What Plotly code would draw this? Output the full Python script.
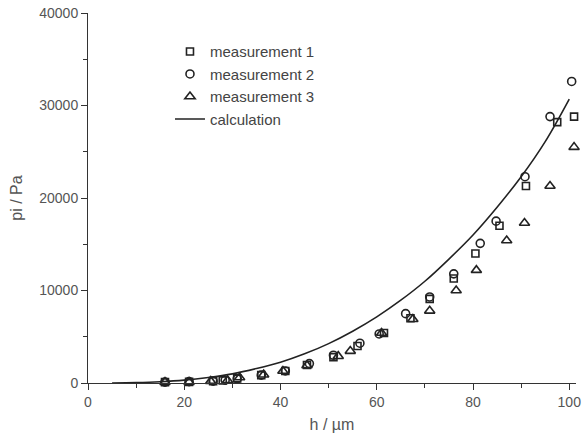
import plotly.graph_objects as go

# Measurement 1 (squares)
h1 = [16, 21, 26, 28, 31, 36, 41, 45.5, 51, 56, 61.5, 67, 71, 76, 80.5, 85.5, 91, 97.5, 101]
p1 = [100, 120, 200, 280, 500, 850, 1300, 1950, 2800, 4000, 5400, 7000, 9100, 11300, 14000, 17000, 21300, 28200, 28800]

# Measurement 2 (circles)
h2 = [16, 21, 26, 28.5, 31, 36, 41, 46, 51, 56.5, 60.5, 66, 71, 76, 81.5, 84.8, 90.8, 96, 100.5]
p2 = [100, 150, 200, 300, 450, 850, 1300, 2100, 3000, 4300, 5300, 7500, 9300, 11800, 15100, 17500, 22300, 28800, 32600]

# Measurement 3 (triangles)
h3 = [16, 21, 25.5, 29, 31.5, 36.5, 40.5, 45.5, 52, 54.5, 61, 67.5, 71, 76.5, 80.7, 87, 90.7, 96, 101]
p3 = [100, 100, 200, 300, 600, 900, 1300, 1900, 2900, 3450, 5400, 6900, 7800, 10000, 12200, 15400, 17300, 21300, 25500]

# Calculation (line)
hc = [5, 10, 15, 20, 25, 30, 35, 40, 45, 50, 55, 60, 65, 70, 75, 80, 85, 90, 95, 100]
pc = [6, 44, 137, 310, 600, 990, 1560, 2240, 3150, 4260, 5600, 7150, 8950, 11000, 13400, 16000, 19000, 22300, 26100, 30700]

x_ticks = [0, 20, 40, 60, 80, 100]
y_ticks = [0, 10000, 20000, 30000, 40000]

ink = "#222222"
fig = go.Figure()
fig.add_trace(go.Scatter(x=h1, y=p1, mode="markers", name="measurement 1",
                         marker=dict(symbol="square-open", size=7, color=ink, line=dict(width=1.6)),
                         cliponaxis=False))
fig.add_trace(go.Scatter(x=h2, y=p2, mode="markers", name="measurement 2",
                         marker=dict(symbol="circle-open", size=8, color=ink, line=dict(width=1.6)),
                         cliponaxis=False))
fig.add_trace(go.Scatter(x=h3, y=p3, mode="markers", name="measurement 3",
                         marker=dict(symbol="triangle-up-open", size=9, color=ink, line=dict(width=1.6)),
                         cliponaxis=False))
fig.add_trace(go.Scatter(x=hc, y=pc, mode="lines", name="calculation",
                         line=dict(color=ink, width=1.6, shape="spline")))

axis_common = dict(showline=True, linecolor="#333", linewidth=1, ticks="outside",
                   ticklen=6, tickcolor="#333", showgrid=False, zeroline=False,
                   automargin=False,
                   tickfont=dict(family="Liberation Sans, Arial", size=14, color="#555"),
                   title_font=dict(family="Liberation Sans, Arial", size=16, color="#555"))

fig.update_xaxes(range=[0, 101.4], tickvals=x_ticks, ticktext=[str(v) for v in x_ticks],
                 title_text="h / µm",
                 minor=dict(dtick=10, ticks="outside", ticklen=4, tickcolor="#333"),
                 title_standoff=10, **axis_common)
fig.update_yaxes(range=[0, 40000], tickvals=y_ticks, ticktext=[str(v) for v in y_ticks],
                 title_text="pi / Pa",
                 minor=dict(dtick=5000, ticks="outside", ticklen=4, tickcolor="#333"),
                 title_standoff=12, **axis_common)

fig.update_layout(
    width=582, height=443,
    margin=dict(l=88, r=6, t=13, b=60),
    plot_bgcolor="white", paper_bgcolor="white",
    showlegend=True,
    legend=dict(x=0.168, y=0.94, xanchor="left", yanchor="top",
                bgcolor="rgba(0,0,0,0)", tracegroupgap=0,
                font=dict(family="Liberation Sans, Arial", size=15, color="#444")),
)

# remove the browser's default 8px body margin so the figure sits at the page origin
fig.write_html("out.html",
               config={"displayModeBar": False},
               post_script="document.body.style.margin='0';document.body.style.padding='0';")
